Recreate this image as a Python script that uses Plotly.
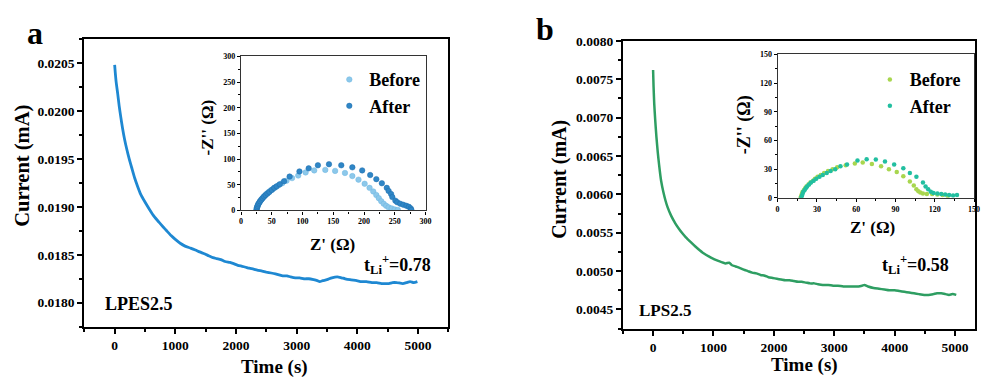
import plotly.graph_objects as go

# ---------------- data ----------------
time_a = [0, 10, 25, 50, 75, 100, 130, 165, 200, 240, 280, 330, 380, 430, 500, 577, 650, 730,
          800, 857, 930, 1000, 1080, 1160, 1250, 1330, 1400, 1480, 1550, 1620, 1680, 1750, 1820,
          1900, 1950, 2030, 2100, 2160, 2220, 2290, 2350, 2430, 2500, 2580, 2650, 2710, 2770,
          2840, 2900, 2980, 3050, 3120, 3200, 3280, 3340, 3380, 3430, 3500, 3580, 3670, 3740,
          3800, 3880, 3990, 4070, 4150, 4240, 4320, 4400, 4450, 4520, 4580, 4650, 4750, 4810,
          4870, 4930, 4990]
current_a = [0.02048, 0.02040, 0.02030, 0.02018, 0.02005, 0.01994, 0.01982, 0.01970, 0.01960,
             0.01950, 0.01941, 0.01930, 0.01921, 0.01913, 0.01905, 0.01897, 0.01890, 0.01884,
             0.01879, 0.01875, 0.01870, 0.01866, 0.01862, 0.01859, 0.01857, 0.01855, 0.01853,
             0.01851, 0.01849, 0.01847, 0.01846, 0.01845, 0.01843, 0.01842, 0.01841, 0.01839,
             0.01838, 0.01837, 0.01836, 0.01835, 0.01834, 0.01833, 0.01832, 0.01831, 0.01830,
             0.01829, 0.01828, 0.01828, 0.01827, 0.01826, 0.01826, 0.01825, 0.01825, 0.01824,
             0.01823, 0.01822, 0.01823, 0.01824, 0.01826, 0.01827, 0.01826, 0.01825, 0.01824,
             0.01823, 0.01822, 0.01822, 0.01821, 0.01821, 0.01820, 0.01820, 0.01820, 0.01821,
             0.01821, 0.01820, 0.01821, 0.01822, 0.01821, 0.01822]

time_b = [0, 8, 19, 35, 55, 77, 100, 132, 170, 205, 241, 300, 370, 430, 488, 543, 620, 700,
          822, 950, 1090, 1200, 1260, 1300, 1370, 1440, 1500, 1570, 1640, 1710, 1780, 1850, 1910,
          1980, 2050, 2120, 2190, 2260, 2330, 2400, 2460, 2530, 2600, 2670, 2730, 2810, 2900,
          2980, 3060, 3150, 3250, 3330, 3400, 3460, 3500, 3560, 3650, 3740, 3830, 3910, 4000,
          4080, 4160, 4240, 4320, 4400, 4490, 4560, 4640, 4700, 4770, 4840, 4900, 4960, 5020]
current_b = [0.00762, 0.00740, 0.00718, 0.00697, 0.00675, 0.00655, 0.00638, 0.00618, 0.00603,
             0.00592, 0.00583, 0.00572, 0.00562, 0.00555, 0.00549, 0.00544, 0.00538, 0.00532,
             0.00524, 0.00518, 0.00513, 0.00510, 0.00511, 0.00508, 0.00506, 0.00504, 0.00502,
             0.00500, 0.00498, 0.00497, 0.00495, 0.00494, 0.00492, 0.00491, 0.00490, 0.00489,
             0.00488, 0.00488, 0.00487, 0.00486, 0.00486, 0.00485, 0.00484, 0.00484, 0.00483,
             0.00482, 0.00482, 0.00481, 0.00481, 0.00480, 0.00480, 0.00480, 0.00480, 0.00481,
             0.00482, 0.00480, 0.00478, 0.00477, 0.00476, 0.00475, 0.00475, 0.00474, 0.00473,
             0.00472, 0.00471, 0.00470, 0.00469, 0.00469, 0.00470, 0.00471, 0.00471, 0.00470,
             0.00469, 0.00470, 0.00469]

# inset a (Nyquist)
za_before_re = [25, 25.5, 26, 27, 28, 29.5, 31, 33, 35, 37, 39.5, 42, 45, 48, 52, 56, 61, 67, 74,
                83, 93, 105, 119, 137, 153, 169, 181, 191, 201, 209, 215, 220, 224, 228, 232,
                236, 240, 245, 250, 255]
za_before_im = [0, 3, 6, 9, 12, 15, 18, 21, 24, 27, 30, 33, 36, 39, 42, 45, 49, 53, 58, 63, 68, 74,
                78, 79, 77, 73, 67, 60, 52, 44, 37, 30, 24, 18, 13, 9, 6, 4, 2, 1]
za_after_re = [25, 25.5, 26, 27, 28, 29.5, 31, 33, 35, 37.5, 40, 43, 46, 50, 54, 58, 63, 70, 79,
               95, 110, 125, 143, 163, 181, 197, 210, 220, 229, 237, 240, 244, 246, 251, 254,
               259, 264, 269, 273, 276, 277]
za_after_im = [0, 3, 6, 9, 12, 15, 18, 21, 24, 27, 30, 33, 36, 40, 44, 47, 51, 57, 66, 76, 82, 88,
               90, 88, 84, 78, 69, 61, 53, 44, 38, 32, 26, 19, 16, 13, 11, 9, 7, 4, 1]

# inset b (Nyquist)
zb_before_re = [17.5, 18, 18.5, 19, 20, 21, 22, 23.5, 25, 27, 28.5, 30.5, 33, 35.5, 38.5, 42,
                45.5, 52, 59, 65, 72, 79, 85, 91, 96, 101, 104, 106, 107.5, 109, 111, 114, 118,
                122, 126, 130]
zb_before_im = [0, 2, 4, 6, 8, 10, 12, 14, 16, 18, 20, 22, 24, 26, 28, 30, 32, 34, 36, 37, 35.5,
                33, 30, 27, 22.5, 17, 13, 9, 7, 5.5, 4.5, 4, 4, 3.5, 3, 2]
zb_after_re = [18, 18.5, 19, 19.5, 20.5, 21.5, 22.5, 24, 25.5, 27.5, 29.5, 32, 34.5, 37.5, 40.5,
               44, 48, 53, 61, 68, 75, 82, 89, 96, 101, 106, 111, 113, 115, 117, 119, 122, 125,
               128, 131, 134, 137]
zb_after_im = [0, 2, 4, 6, 8, 10, 12, 14, 16, 18, 20, 22, 24, 26, 28, 30, 33, 35, 39, 40.5, 40,
               38, 35, 31, 26, 22, 16, 12, 9, 6.5, 5, 4.5, 4, 3.5, 3, 2.5, 3]

# ---------------- styling ----------------
SERIF = "Liberation Serif, Times New Roman, serif"
W, H = 981, 385


def px_x(p):
    return p / W


def px_y(p):
    return 1 - p / H


fig = go.Figure()

fig.add_trace(go.Scatter(x=time_a, y=current_a, mode="lines", xaxis="x", yaxis="y",
                         line=dict(color="#1E88D2", width=2.8, shape="spline", smoothing=0.6),
                         showlegend=False))
fig.add_trace(go.Scatter(x=time_b, y=current_b, mode="lines", xaxis="x2", yaxis="y2",
                         line=dict(color="#2E9E62", width=2.5, shape="spline", smoothing=0.6),
                         showlegend=False))

fig.add_trace(go.Scatter(x=za_before_re, y=za_before_im, mode="markers", xaxis="x3", yaxis="y3",
                         name="Before", legend="legend",
                         marker=dict(color="#8CC8EA", size=5.5,
                                     line=dict(color="#6FB6E2", width=0.5))))
fig.add_trace(go.Scatter(x=za_after_re, y=za_after_im, mode="markers", xaxis="x3", yaxis="y3",
                         name="After", legend="legend",
                         marker=dict(color="#2F86C6", size=5.5,
                                     line=dict(color="#1F6FAF", width=0.5))))
fig.add_trace(go.Scatter(x=zb_before_re, y=zb_before_im, mode="markers", xaxis="x4", yaxis="y4",
                         name="Before", legend="legend2",
                         marker=dict(color="#A8D64E", size=4.5)))
fig.add_trace(go.Scatter(x=zb_after_re, y=zb_after_im, mode="markers", xaxis="x4", yaxis="y4",
                         name="After", legend="legend2",
                         marker=dict(color="#22BFA0", size=4.5)))

tickfont_main = dict(family=SERIF, size=13.5, color="black", weight="bold")
tickfont_in = dict(family=SERIF, size=8, color="black", weight="bold")


def main_axis(domain, rng, dtick, minor_dtick, anchor, fmt=None, tickvals=None):
    d = dict(domain=domain, range=rng, anchor=anchor, showgrid=False, zeroline=False,
             showline=True, linecolor="black", linewidth=2, mirror=True,
             ticks="outside", ticklen=5, tickwidth=2, tickcolor="black",
             tickfont=tickfont_main,
             minor=dict(ticks="outside", ticklen=3, tickwidth=1.5, tickcolor="black",
                        dtick=minor_dtick, showgrid=False))
    if tickvals is not None:
        d["tickvals"] = tickvals
    else:
        d["dtick"] = dtick
    if fmt:
        d["tickformat"] = fmt
    return d


def inset_axis(domain, rng, dtick, minor_dtick, anchor):
    return dict(domain=domain, range=rng, anchor=anchor, showgrid=False, zeroline=False,
                showline=True, linecolor="#333333", linewidth=1.2, mirror=True,
                ticks="outside", ticklen=3, tickwidth=1, tickcolor="black", dtick=dtick,
                tickfont=tickfont_in,
                minor=dict(ticks="outside", ticklen=2, tickwidth=0.8, tickcolor="black",
                           dtick=minor_dtick, showgrid=False))


xt = [0, 1000, 2000, 3000, 4000, 5000]
fig.update_layout(
    width=W, height=H, margin=dict(l=0, r=0, t=0, b=0),
    paper_bgcolor="white", plot_bgcolor="white",
    xaxis=main_axis([px_x(83), px_x(450)], [-500, 5500], 1000, 500, "y", tickvals=xt),
    yaxis=main_axis([px_y(330), px_y(33)], [0.01775, 0.02075], 0.0005, 0.00025, "x", fmt=".4f"),
    xaxis2=main_axis([px_x(626), 1.0], [-500, 5330], 1000, 500, "y2", tickvals=xt),
    yaxis2=main_axis([px_y(332), px_y(35)], [0.00425, 0.0080], 0.0005, 0.00025, "x2", fmt=".4f"),
    xaxis3=inset_axis([px_x(241), px_x(427)], [0, 300], 50, 25, "y3"),
    yaxis3=inset_axis([px_y(210), px_y(51)], [0, 300], 50, 25, "x3"),
    xaxis4=inset_axis([px_x(782), px_x(980)], [0, 150], 30, 15, "y4"),
    yaxis4=inset_axis([px_y(197), px_y(49)], [0, 150], 30, 15, "x4"),
    legend=dict(x=px_x(330), y=px_y(56), xanchor="left", yanchor="top",
                bgcolor="rgba(0,0,0,0)", itemwidth=30, tracegroupgap=0,
                font=dict(family=SERIF, size=18, color="black", weight="bold")),
    legend2=dict(x=px_x(875), y=px_y(56), xanchor="left", yanchor="top",
                 bgcolor="rgba(0,0,0,0)", itemwidth=30, tracegroupgap=0,
                 font=dict(family=SERIF, size=18, color="black", weight="bold")),
)


def ann(text, x, y, size, angle=0, xanchor="center"):
    fig.add_annotation(text=text, x=px_x(x), y=px_y(y), xref="paper", yref="paper",
                       showarrow=False, textangle=angle, xanchor=xanchor, yanchor="middle",
                       font=dict(family=SERIF, size=size, color="black", weight="bold"))


ann("a", 33, 27, 32)
ann("b", 547, 23, 32)
ann("Current (mA)", 21, 164, 20.5, angle=-90)
ann("Current (mA)", 562, 178, 20, angle=-90)
ann("Time (s)", 275, 372, 19)
ann("Time (s)", 809, 370, 19)
ann("LPES2.5", 102, 307, 18, xanchor="left")
ann("LPS2.5", 640, 313, 17, xanchor="left")
ann("t<sub>Li</sub><sup>+</sup>=0.78", 363, 266, 18, xanchor="left")
ann("t<sub>Li</sub><sup>+</sup>=0.58", 885, 266, 18, xanchor="left")
ann("Z' (Ω)", 333, 245, 17)
ann("-Z'' (Ω)", 207, 124, 17, angle=-90)
ann("Z' (Ω)", 878, 228, 17)
ann("-Z'' (Ω)", 748, 121, 18, angle=-90)

fig.write_html("out.html")
